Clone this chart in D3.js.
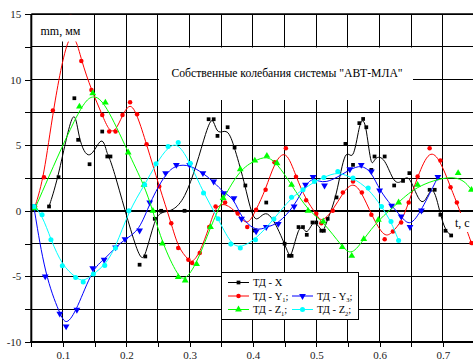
<!DOCTYPE html>
<html>
<head>
<meta charset="utf-8">
<script src="https://cdn.jsdelivr.net/npm/d3@7"></script>
<style>
body { margin: 0; background: #fff; }
svg { display: block; }
svg text { font-family: "Liberation Serif", "Times New Roman", Times, serif; }
</style>
</head>
<body>
<div id="chart"></div>
<script>
const SVGWIDTH = 473, SVGHEIGHT = 360

const titleText = "Собственные колебания системы \"АВТ-МЛА\""
const yLabel = "mm, мм"
const xLabel = "t, c"

// axis ticks
const xTicks = d3.range(1, 16).map(i => +(i * 0.05).toFixed(2))
const yTicks = d3.range(-4, 7).map(i => i * 2.5)

// [t, value]
const tdX = [[0.078, 0.33], [0.093, 2.56], [0.118, 8.58], [0.124, 5.41], [0.142, 3.55], [0.162, 6.04],
    [0.170, 4.14], [0.175, 4.14], [0.221, -4.11], [0.230, -3.48], [0.245, -0.61], [0.255, 0.0],
    [0.292, 0.0], [0.330, 6.98], [0.338, 6.98], [0.344, 5.71], [0.360, 6.37], [0.371, 4.82],
    [0.388, 1.93], [0.403, -1.5], [0.421, 0.63], [0.450, -2.51], [0.457, -3.43], [0.461, -3.43],
    [0.472, -1.24], [0.479, -1.24], [0.485, -1.83], [0.494, -0.89], [0.500, -0.89], [0.508, -1.52],
    [0.512, -1.52], [0.518, -0.61], [0.532, 1.02], [0.546, 5.1], [0.558, 3.5], [0.568, 6.68],
    [0.574, 7.0], [0.579, 6.37], [0.587, 3.12], [0.592, 4.14], [0.608, 4.14], [0.623, 1.93],
    [0.637, 2.28], [0.647, 2.87], [0.666, 0.0], [0.679, 1.6], [0.687, 1.6], [0.696, -0.3],
    [0.704, -1.52], [0.713, -1.88]]

const tdY1 = [[0.056, 0.33], [0.070, 2.56], [0.084, 7.64], [0.112, 14.8], [0.129, 11.42], [0.145, 9.21],
    [0.162, 7.31], [0.173, 6.04], [0.183, 6.04], [0.194, 7.31], [0.206, 8.27], [0.217, 7.36],
    [0.232, 5.08], [0.252, 1.85], [0.271, -0.94], [0.282, -2.84], [0.298, -3.73], [0.304, -3.98],
    [0.316, -3.22], [0.331, -1.24], [0.341, 0.33], [0.356, 0.63], [0.376, -0.2], [0.391, -1.24],
    [0.405, 0.08], [0.420, 1.6], [0.434, 3.7], [0.452, 4.77], [0.468, 2.6], [0.484, 0.8],
    [0.500, -0.23], [0.508, -0.94], [0.526, 0.0], [0.542, 1.4], [0.558, 2.23], [0.572, 1.4],
    [0.587, -0.3], [0.608, -2.16], [0.621, -1.57], [0.634, -0.89], [0.646, 0.63], [0.660, 2.61],
    [0.679, 4.77], [0.696, 3.83], [0.712, 1.8], [0.722, 0.63], [0.745, -2.46]]

const tdY3 = [[0.054, 0.33], [0.072, -5.0], [0.095, -7.84], [0.105, -8.81], [0.122, -7.54], [0.147, -4.37],
    [0.165, -3.73], [0.183, -2.79], [0.198, -2.16], [0.221, -1.5], [0.237, 0.63], [0.262, 2.87],
    [0.279, 3.5], [0.300, 3.5], [0.321, 2.87], [0.338, 2.23], [0.354, 1.35], [0.370, 0.96],
    [0.382, -0.61], [0.405, -1.57], [0.421, -1.24], [0.440, -1.0], [0.465, 0.33], [0.483, 1.98],
    [0.495, 2.57], [0.513, 1.93], [0.553, 3.17], [0.571, 3.5], [0.587, 3.0], [0.600, 1.55],
    [0.619, 0.38], [0.634, -0.43], [0.648, -1.24], [0.666, 0.02], [0.692, 2.57]]

const tdZ1 = [[0.056, 0.2], [0.126, 7.94], [0.147, 8.96], [0.167, 8.25], [0.203, 4.44], [0.228, 1.98],
    [0.242, 0.0], [0.257, -2.5], [0.282, -5.05], [0.293, -5.31], [0.311, -4.06], [0.333, -1.24],
    [0.353, 0.97], [0.380, 3.17], [0.403, 3.83], [0.422, 4.19], [0.438, 3.63], [0.461, 1.98],
    [0.487, 0.0], [0.511, -0.81], [0.541, -2.77], [0.556, -3.43], [0.575, -2.16], [0.598, -0.69],
    [0.630, 0.63], [0.660, 1.98], [0.724, 2.87], [0.745, 1.6]]

const tdZ2 = [[0.054, 0.33], [0.067, -0.3], [0.081, -2.21], [0.099, -4.19], [0.120, -5.08], [0.132, -5.43],
    [0.148, -4.82], [0.166, -4.16], [0.183, -2.84], [0.204, 0.0], [0.229, 1.98], [0.247, 3.58],
    [0.266, 4.9], [0.282, 5.2], [0.301, 3.63], [0.322, 1.35], [0.345, -0.6], [0.365, -2.54],
    [0.380, -2.84], [0.404, -2.21], [0.433, -0.63], [0.461, 1.04], [0.479, 1.6], [0.497, 2.23],
    [0.512, 2.54], [0.534, 3.0], [0.558, 2.49], [0.582, 1.73], [0.603, 0.33], [0.618, -0.81],
    [0.630, -2.26]]

const seriesNames = [["ТД - X", "", ""], ["ТД - Y", "1", ";"], ["ТД - Y", "3", ";"], ["ТД - Z", "1", ";"], ["ТД - Z", "2", ";"]]
const seriesData = [tdX, tdY1, tdY3, tdZ1, tdZ2]
const seriesColors = ["#000000", "#ff0000", "#0000ff", "#00ff00", "#00ffff"]
const seriesSymbols = [d3.symbolSquare, d3.symbolCircle, d3.symbolTriangle, d3.symbolTriangle, d3.symbolCircle]
const symbolSizes = [14, 16, 20, 20, 20]
const symbolRotate = [0, 0, 180, 0, 0]

const x = d3.scaleLinear().domain([0.05, 0.75]).range([31.3, 474.6])
const y = d3.scaleLinear().domain([-10, 15]).range([342, 14])

let svg = d3.select("#chart").append("svg")
    .attr("width", SVGWIDTH).attr("height", SVGHEIGHT)

// grid
let grid = svg.append("g").attr("shape-rendering", "crispEdges")
grid.selectAll(".vg").data(xTicks).enter().append("line")
    .attr("x1", d => x(d)).attr("x2", d => x(d))
    .attr("y1", y(15)).attr("y2", y(-10))
    .style("stroke", "#000").style("stroke-width", 1)
grid.selectAll(".hg").data(yTicks).enter().append("line")
    .attr("x1", x(0.05)).attr("x2", x(0.75))
    .attr("y1", d => y(d)).attr("y2", d => y(d))
    .style("stroke", "#000").style("stroke-width", d => d === 0 ? 2 : 1)

// series
const curve = d3.line().curve(d3.curveBasis).x(d => x(d[0])).y(d => y(d[1]))
for (let i = 0; i < seriesData.length; i++) {
    svg.append("path")
        .attr("d", curve(seriesData[i]))
        .attr("fill", "none")
        .attr("stroke", seriesColors[i])
        .attr("stroke-width", 1)
    svg.append("g").selectAll("path").data(seriesData[i]).enter().append("path")
        .attr("d", d3.symbol().type(seriesSymbols[i]).size(symbolSizes[i]))
        .attr("transform", d => "translate(" + x(d[0]) + "," + y(d[1]) + ") rotate(" + symbolRotate[i] + ")")
        .attr("fill", seriesColors[i])
}

// white label boxes
svg.append("rect").attr("x", 32).attr("y", 15).attr("width", 57).attr("height", 26.5).attr("fill", "#fff")
svg.append("text").attr("x", 40.5).attr("y", 34.5).style("font-size", "12px").text(yLabel)

svg.append("rect").attr("x", 159).attr("y", 47.5).attr("width", 254).attr("height", 52.5).attr("fill", "#fff")
svg.append("text").attr("x", 287).attr("y", 77).attr("text-anchor", "middle")
    .style("font-size", "11.7px").text(titleText)

svg.append("rect").attr("x", 453).attr("y", 213).attr("width", 18).attr("height", 19).attr("fill", "#fff")
svg.append("text").attr("x", 455).attr("y", 227).style("font-size", "12px").text(xLabel)

// axes
let xAxis = svg.append("g").attr("transform", "translate(0," + y(-10) + ")")
    .call(d3.axisBottom(x).tickValues(xTicks).tickSize(5).tickPadding(4)
        .tickFormat(d => Math.abs(d * 10 - Math.round(d * 10)) < 1e-6 ? d3.format(".1f")(d) : ""))
let yAxis = svg.append("g").attr("transform", "translate(" + x(0.05) + ",0)")
    .call(d3.axisLeft(y).tickValues(yTicks).tickSize(6).tickPadding(4)
        .tickFormat(d => d % 5 === 0 ? d : ""))
for (let ax of [xAxis, yAxis]) {
    ax.attr("font-family", null)
    ax.select(".domain").remove()
    ax.selectAll("line").attr("stroke", "#000").attr("shape-rendering", "crispEdges")
    ax.selectAll("text").attr("fill", "#222").style("font-size", "11px")
}

// frame
svg.append("line").attr("x1", x(0.05)).attr("x2", x(0.05)).attr("y1", y(15)).attr("y2", y(-10))
    .style("stroke", "#000").style("stroke-width", 2)
svg.append("line").attr("x1", x(0.05) - 1).attr("x2", x(0.75)).attr("y1", y(-10)).attr("y2", y(-10))
    .style("stroke", "#000").style("stroke-width", 2)
svg.append("line").attr("x1", x(0.05)).attr("x2", x(0.75)).attr("y1", y(15)).attr("y2", y(15))
    .style("stroke", "#000").style("stroke-width", 1.5)

// legend
let legend = svg.append("g")
legend.append("rect").attr("x", 221).attr("y", 272).attr("width", 137).attr("height", 47)
    .attr("fill", "#fff").attr("stroke", "#000").attr("stroke-width", 1).attr("shape-rendering", "crispEdges")
const legendPos = [[228, 282.5], [228, 296], [292, 296], [228, 309.5], [292, 309.5]]
for (let i = 0; i < seriesNames.length; i++) {
    let lx = legendPos[i][0], ly = legendPos[i][1]
    legend.append("line").attr("x1", lx).attr("x2", lx + 21).attr("y1", ly).attr("y2", ly)
        .attr("stroke", seriesColors[i]).attr("stroke-width", 1)
    legend.append("path")
        .attr("d", d3.symbol().type(seriesSymbols[i]).size(symbolSizes[i]))
        .attr("transform", "translate(" + (lx + 10.5) + "," + ly + ") rotate(" + symbolRotate[i] + ")")
        .attr("fill", seriesColors[i])
    let t = legend.append("text").attr("x", lx + 25).attr("y", ly + 3.8).style("font-size", "10.5px")
    t.append("tspan").text(seriesNames[i][0])
    if (seriesNames[i][1]) {
        t.append("tspan").attr("dy", 2.5).style("font-size", "6.5px").text(seriesNames[i][1])
        t.append("tspan").attr("dy", -2.5).text(seriesNames[i][2])
    }
}
</script>
</body>
</html>
